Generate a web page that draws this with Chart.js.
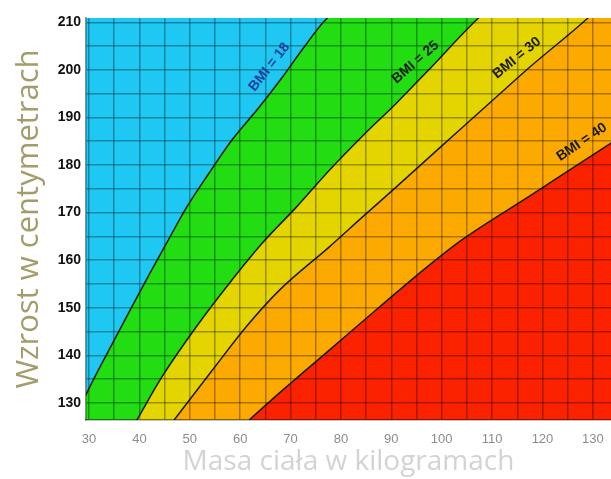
<!DOCTYPE html>
<html>
<head>
<meta charset="utf-8">
<script src="https://cdn.jsdelivr.net/npm/chart.js@4"></script>
<style>
  html, body { margin: 0; padding: 0; background: #fff; }
  #wrap { width: 611px; height: 479px; }
</style>
</head>
<body>
<div id="wrap"><canvas id="bmiChart" width="611" height="479"></canvas></div>
<script>
// ---- data (kg, cm) ----
const bmi18Kg = [28.5, 29.4, 34.0, 38.5, 41.9, 45.3, 49.3, 53.7, 58.4, 63.8, 68.4, 72.7, 77.3, 140];
const bmi18Cm = [129.5, 131.7, 141.2, 150.2, 156.9, 163.4, 171.0, 178.1, 185.3, 192.2, 198.5, 204.8, 210.9, 250];

const bmi25Kg = [39.5, 44.5, 51.3, 57.9, 64.4, 71.2, 77.7, 84.3, 91.0, 97.6, 107.3, 140];
const bmi25Cm = [126.4, 135.5, 146.0, 155.2, 163.6, 171.2, 178.9, 186.1, 193.0, 200.2, 210.9, 240];

const bmi30Kg = [46.9, 54.5, 61.2, 67.8, 77.7, 84.3, 91.0, 97.6, 104.2, 112.1, 117.5, 128.8, 140];
const bmi30Cm = [126.4, 136.9, 146.0, 153.7, 162.8, 169.1, 175.4, 181.7, 188.0, 195.5, 200.6, 210.7, 222];

const bmi40Kg = [61.8, 67.8, 77.7, 87.7, 97.6, 104.2, 117.5, 133.6, 140];
const bmi40Cm = [126.4, 132.1, 141.1, 150.2, 159.0, 164.4, 173.5, 184.6, 189];

const bmiNames  = ['BMI = 18', 'BMI = 25', 'BMI = 30', 'BMI = 40'];
const labelKg   = [65.8, 94.8, 114.9, 127.8];
const labelCm   = [200.6, 201.6, 202.5, 184.8];
const labelDeg  = [-52, -41, -39, -34];

const xMin = 29.4, xMax = 133.6;
const yMin = 126.4, yMax = 210.9;
const xTitle = 'Masa ciała w kilogramach';
const yTitle = 'Wzrost w centymetrach';

// ---- helpers ----
const pts = (xs, ys) => xs.map((x, i) => ({ x: x, y: ys[i] }));

function band(label, xs, ys, color, order) {
  return {
    label: label,
    data: pts(xs, ys),
    borderColor: '#1a1a1a',
    borderWidth: 1.5,
    backgroundColor: color,
    fill: 'start',
    pointRadius: 0,
    cubicInterpolationMode: 'monotone',
    order: order
  };
}

// blue area behind everything
const plotBg = {
  id: 'plotBg',
  beforeDatasetsDraw(chart) {
    const a = chart.chartArea, ctx = chart.ctx;
    ctx.save();
    ctx.fillStyle = '#1ec8f2';
    ctx.fillRect(a.left, a.top, a.right - a.left, a.bottom - a.top);
    ctx.restore();
  }
};

// rotated "BMI = xx" labels
const bmiLabels = {
  id: 'bmiLabels',
  afterDraw(chart) {
    const ctx = chart.ctx, xs = chart.scales.x, ys = chart.scales.y;
    ctx.save();
    ctx.font = 'bold 14px "Liberation Sans", Arial, sans-serif';
    ctx.textAlign = 'center';
    ctx.textBaseline = 'middle';
    bmiNames.forEach((name, i) => {
      ctx.save();
      ctx.translate(xs.getPixelForValue(labelKg[i]), ys.getPixelForValue(labelCm[i]));
      ctx.rotate(labelDeg[i] * Math.PI / 180);
      ctx.fillStyle = i === 0 ? '#1d3c9c' : '#1a1a1a';
      ctx.fillText(name, 0, 0);
      ctx.restore();
    });
    ctx.restore();
  }
};

new Chart(document.getElementById('bmiChart').getContext('2d'), {
  type: 'line',
  data: {
    datasets: [
      band('BMI 40', bmi40Kg, bmi40Cm, '#fb2200', 1),
      band('BMI 30', bmi30Kg, bmi30Cm, '#fcaa00', 2),
      band('BMI 25', bmi25Kg, bmi25Cm, '#e4d500', 3),
      band('BMI 18', bmi18Kg, bmi18Cm, '#22dd11', 4)
    ]
  },
  options: {
    responsive: false,
    animation: false,
    layout: { padding: { top: 18, right: 0, left: 0, bottom: 0 } },
    plugins: { legend: { display: false }, tooltip: { enabled: false } },
    scales: {
      x: {
        type: 'linear',
        min: xMin, max: xMax,
        afterFit: s => { s.height = 59; s.paddingLeft = 0; s.paddingRight = 0; },
        grid: { color: 'rgba(0,0,0,0.33)', lineWidth: 1.5, drawTicks: false, z: 1 },
        border: { color: 'rgba(0,0,0,0.45)', width: 1.5, z: 1 },
        ticks: {
          stepSize: 5, includeBounds: false, autoSkip: false, maxRotation: 0,
          padding: 12, color: '#8c8c8c',
          font: { family: '"Liberation Sans Narrow", "Liberation Sans", sans-serif', size: 13 },
          callback: v => (v % 10 === 0 ? v : '')
        },
        title: {
          display: true, text: xTitle, color: '#d3d3d3',
          font: { family: '"Open Sans", sans-serif', size: 28 },
          padding: { top: 0, bottom: 0 }
        }
      },
      y: {
        type: 'linear',
        min: yMin, max: yMax,
        afterFit: s => { s.width = 86; s.paddingTop = 0; s.paddingBottom = 0; },
        grid: { color: 'rgba(0,0,0,0.33)', lineWidth: 1.5, drawTicks: false, z: 1 },
        border: { color: 'rgba(0,0,0,0.45)', width: 1.5, z: 1 },
        ticks: {
          stepSize: 5, includeBounds: false, autoSkip: false,
          padding: 5, color: '#111',
          font: { family: '"Liberation Sans", Arial, sans-serif', size: 14, weight: 'bold' },
          callback: v => (v % 10 === 0 ? v : '')
        },
        title: {
          display: true, text: yTitle, color: '#a39d6b',
          font: { family: '"Open Sans", sans-serif', size: 31 },
          padding: { top: 11, bottom: 0 }
        }
      }
    }
  },
  plugins: [plotBg, bmiLabels]
});
</script>
</body>
</html>
